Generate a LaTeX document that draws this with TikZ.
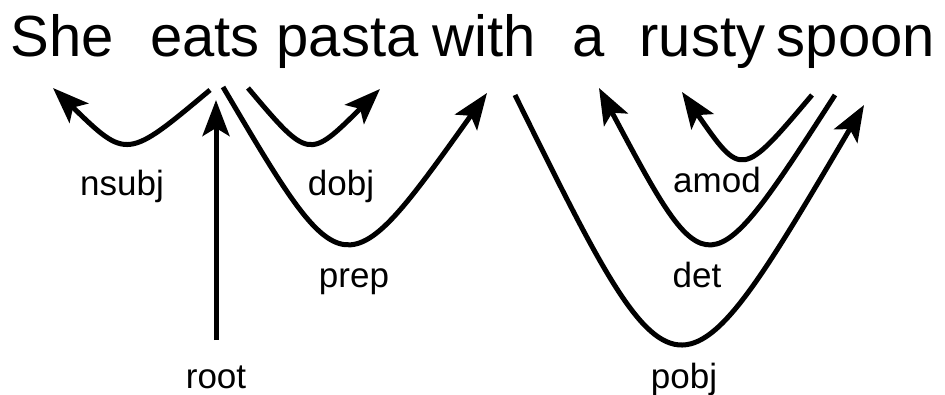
\documentclass[tikz,border=0pt]{standalone}
\usepackage{fontspec}
\setmainfont{Liberation Sans}
\usetikzlibrary{arrows.meta}
\begin{document}
\begin{tikzpicture}[x=1pt,y=1pt,
  word/.style={anchor=base,inner sep=0pt,font=\fontsize{58}{66}\selectfont},
  lbl/.style={anchor=base,inner sep=0pt,font=\fontsize{35}{40}\selectfont},
  dep/.style={line width=5pt,-{Stealth[length=36pt,width=27pt,inset=8pt]}}]
\useasboundingbox (0,0) rectangle (945,394);
% words
\node[word] (w1) at (62.5,337) {She};
\node[word] (w2) at (205,337) {eats};
\node[word] (w3) at (347.5,337) {pasta};
\node[word] (w4) at (484.5,337) {with};
\node[word] (w5) at (589,337) {a};
\node[word] (w6) at (702.5,337) {rusty};
\node[word] (w7) at (856,337) {spoon};
% arc points: start, corner control, tip
\coordinate (nsS) at (210,304); \coordinate (nsK) at (126.8,234.3); \coordinate (nsT) at (53,306);
\coordinate (doS) at (248,306); \coordinate (doK) at (308.7,234.1); \coordinate (doT) at (380,305);
\coordinate (prS) at (223,307); \coordinate (prK) at (344.3,101.3); \coordinate (prT) at (487,301);
\coordinate (roB) at (216,54);  \coordinate (roT) at (216,294);
\coordinate (poS) at (515,299); \coordinate (poK) at (676.8,-28.7); \coordinate (poT) at (864,289);
\coordinate (deS) at (835,299); \coordinate (deK) at (707.7,101.9); \coordinate (deT) at (599,306);
\coordinate (amS) at (812,299); \coordinate (amK) at (741.7,215.9); \coordinate (amT) at (682,302);
% arcs
\draw[dep] (nsS) .. controls (nsK) and (nsK) .. (nsT);
\draw[dep] (doS) .. controls (doK) and (doK) .. (doT);
\draw[dep] (prS) .. controls (prK) and (prK) .. (prT);
\draw[dep] (roB) -- (roT);
\draw[dep] (poS) .. controls (poK) and (poK) .. (poT);
\draw[dep] (deS) .. controls (deK) and (deK) .. (deT);
\draw[dep] (amS) .. controls (amK) and (amK) .. (amT);
% labels
\node[lbl] (l1) at (122,198) {nsubj};
\node[lbl] (l2) at (341,198) {dobj};
\node[lbl] (l3) at (354,107) {prep};
\node[lbl] (l4) at (216,6) {root};
\node[lbl] (l5) at (717,201) {amod};
\node[lbl] (l6) at (697,107) {det};
\node[lbl] (l7) at (684,6) {pobj};
\end{tikzpicture}
\end{document}
